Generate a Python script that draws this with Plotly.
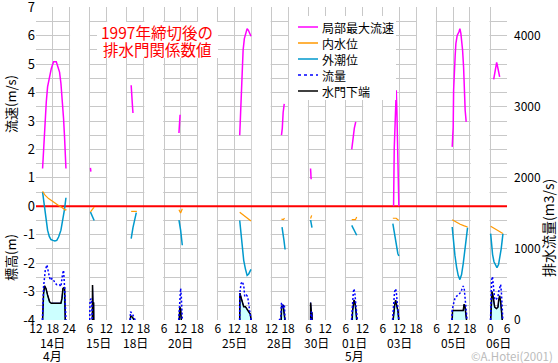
import plotly.graph_objects as go

# ---------------- broken time axis: the days that are shown ----------------
SEG_DAY = [14, 15, 18, 20, 25, 28, 30, 1, 3, 5, 6]
SEG_START = [12, 6, 12, 6, 6, 12, 6, 6, 6, 6, 0]     # first hour shown
SEG_END = [24, 12, 18, 18, 18, 18, 12, 12, 18, 18, 6]  # last hour shown
DAY_LABELS = ["14日", "15日", "18日", "20日", "25日", "28日", "30日", "01日", "03日", "05日", "06日"]
MONTH_LABELS = [("4月", 14), ("5月", 1)]
GAP = 7.4  # width of the blank strip between days (in axis hours)

# ---------------- data: (day, hour) and value ----------------
speed_t = [(14, 14.38), (14, 14.74), (14, 15.1), (14, 15.35), (14, 15.71), (14, 16.18), (14, 16.79),
           (14, 17.51), (14, 18.13), (14, 18.34), (14, 19.32), (14, 19.78), (14, 20.5), (14, 21.0),
           (14, 21.59), (14, 21.95), (14, 22.3), (14, 22.67), (14, 22.81),
           (15, 6.25), (15, 6.4),
           (18, 13.55), (18, 13.8), (18, 14.0), (18, 14.2),
           (20, 11.4), (20, 11.6), (20, 11.8),
           (25, 13.93), (25, 14.18), (25, 14.43), (25, 14.8), (25, 15.15), (25, 15.6), (25, 16.1),
           (25, 16.6), (25, 17.06), (25, 17.53), (25, 18.0),
           (28, 15.6), (28, 15.9), (28, 16.2), (28, 16.6),
           (30, 6.7), (30, 6.9),
           (1, 8.16), (1, 8.6), (1, 9.1), (1, 9.6),
           (3, 9.86), (3, 9.9), (3, 10.1), (3, 10.58), (3, 10.83), (3, 11.05), (3, 11.3), (3, 11.55), (3, 11.77),
           (5, 11.62), (5, 11.98), (5, 12.13), (5, 12.34), (5, 12.7), (5, 12.95), (5, 13.42), (5, 14.04),
           (5, 14.4), (5, 14.76), (5, 15.12), (5, 15.37), (5, 15.73), (5, 15.95), (5, 16.3), (5, 16.67),
           (6, 1.19), (6, 1.55), (6, 1.91), (6, 2.27), (6, 2.63), (6, 2.99), (6, 3.35)]
speed_v = [1.33, 2.09, 2.67, 3.14, 3.67, 4.2, 4.55,
           4.84, 5.02, 5.08, 5.08, 4.96, 4.72, 4.32,
           3.67, 3.08, 2.44, 1.85, 1.33,
           1.35, 1.22,
           4.26, 4.0, 3.55, 3.28,
           2.58, 2.9, 3.22,
           2.5, 3.03, 4.08, 4.84, 5.49, 5.9, 6.1,
           6.25, 6.19, 6.1, 5.98,
           2.5, 2.75, 3.3, 3.6,
           1.33, 0.95,
           2.0, 2.4, 2.75, 2.97,
           0.0, 0.67, 2.03, 3.38, 4.08, 3.38, 2.03, 0.67, 0.0,
           2.09, 2.79, 4.08, 4.9, 5.31, 5.72, 6.01, 6.13,
           6.25, 6.07, 5.78, 5.49, 4.9, 4.14, 3.38, 2.97,
           4.46, 4.7, 4.95, 5.06, 4.9, 4.7, 4.55]

inner_t = [(14, 14.38), (14, 15.35), (14, 16.54), (14, 17.77), (14, 18.95), (14, 20.15), (14, 21.37),
           (14, 21.95), (14, 22.56), (14, 23.0),
           (15, 6.25), (15, 7.6),
           (18, 13.55), (18, 15.6),
           (20, 11.4), (20, 12.0), (20, 12.6),
           (25, 13.93), (25, 14.9), (25, 15.9), (25, 17.1), (25, 18.0),
           (28, 15.6), (28, 16.3), (28, 16.7),
           (30, 6.7), (30, 6.9), (30, 7.1),
           (1, 8.16), (1, 9.5), (1, 9.95),
           (3, 9.6), (3, 10.8), (3, 11.4), (3, 11.77),
           (5, 11.62), (5, 13.0), (5, 14.5), (5, 16.0), (5, 17.17),
           (6, 0.1), (6, 1.5), (6, 3.0), (6, 4.5)]
inner_v = [0.53, 0.38, 0.27, 0.18, 0.1, 0.03, -0.04,
           -0.1, -0.13, -0.12,
           -0.2, -0.03,
           -0.18, -0.18,
           -0.12, -0.24, -0.09,
           -0.21, -0.28, -0.37, -0.43, -0.52,
           -0.45, -0.47, -0.42,
           -0.43, -0.33, -0.32,
           -0.47, -0.47, -0.38,
           -0.42, -0.42, -0.47, -0.49,
           -0.47, -0.55, -0.63, -0.69, -0.73,
           -0.7, -0.78, -0.87, -0.96]

tide_t = [(14, 14.38), (14, 14.99), (14, 15.6), (14, 16.18), (14, 16.79), (14, 17.4), (14, 18.1),
          (14, 18.8), (14, 19.5), (14, 20.15), (14, 21.0), (14, 21.73), (14, 22.3), (14, 22.81),
          (15, 6.25), (15, 7.6),
          (18, 13.55), (18, 14.2), (18, 15.4),
          (20, 11.4), (20, 12.0), (20, 12.6),
          (25, 13.93), (25, 14.54), (25, 15.0), (25, 15.37), (25, 15.98), (25, 16.6), (25, 17.17),
          (25, 17.78), (25, 18.0),
          (28, 15.8), (28, 16.2), (28, 16.5), (28, 16.9),
          (30, 6.72), (30, 6.95), (30, 7.2),
          (1, 8.16), (1, 8.75), (1, 9.35), (1, 9.95),
          (3, 9.6), (3, 9.96), (3, 10.3), (3, 10.65), (3, 11.0), (3, 11.4), (3, 11.77),
          (5, 11.62), (5, 11.98), (5, 12.6), (5, 13.2), (5, 13.78), (5, 14.4), (5, 15.0), (5, 15.6),
          (5, 16.2), (5, 16.8), (5, 17.17),
          (6, 0.1), (6, 0.36), (6, 0.8), (6, 1.3), (6, 1.9), (6, 2.38), (6, 2.95), (6, 3.5),
          (6, 3.9), (6, 4.2), (6, 4.54)]
tide_v = [0.5, 0.0, -0.49, -0.84, -1.06, -1.17, -1.2,
          -1.22, -1.2, -1.08, -0.84, -0.45, -0.1, 0.3,
          -0.2, -0.5,
          -1.14, -0.75, -0.22,
          -0.49, -0.84, -1.37,
          -0.5, -1.05, -1.55, -1.9, -2.2, -2.43, -2.38,
          -2.28, -2.22,
          -0.73, -0.96, -1.2, -1.52,
          -0.49, -0.6, -0.75,
          -0.67, -0.8, -0.92, -1.02,
          -0.61, -0.84, -1.06, -1.3, -1.52, -1.66, -1.75,
          -0.73, -1.2, -1.72, -2.14, -2.43, -2.58, -2.4, -2.02,
          -1.55, -1.08, -0.75,
          -0.96, -1.35, -1.7, -1.95, -2.1, -2.16, -2.05, -1.8,
          -1.5, -1.25, -0.96]

flow_t = [(14, 14.3), (14, 14.38), (14, 14.74), (14, 15.35), (14, 15.96), (14, 16.54), (14, 17.15),
          (14, 17.77), (14, 18.34), (14, 18.95), (14, 19.57), (14, 20.5), (14, 21.0), (14, 21.59),
          (14, 21.95), (14, 22.3), (14, 22.56), (14, 22.81),
          (15, 6.0), (15, 6.1), (15, 6.5), (15, 6.8), (15, 6.9),
          (18, 13.2), (18, 13.3), (18, 13.9), (18, 14.6), (18, 15.0),
          (20, 11.3), (20, 11.75), (20, 12.0), (20, 12.25), (20, 12.6),
          (25, 13.9), (25, 13.95), (25, 14.43), (25, 14.8), (25, 15.37), (25, 15.73), (25, 16.34),
          (25, 16.8), (25, 17.3), (25, 17.78), (25, 18.0),
          (28, 14.7), (28, 15.3), (28, 15.6), (28, 15.8), (28, 16.1), (28, 16.43), (28, 16.68), (28, 16.9),
          (30, 6.8), (30, 6.9), (30, 7.1), (30, 7.2),
          (1, 8.1), (1, 8.4), (1, 8.75), (1, 9.0), (1, 9.35), (1, 9.7), (1, 9.95), (1, 10.2),
          (3, 9.5), (3, 9.7), (3, 9.95), (3, 10.2), (3, 10.55), (3, 10.83), (3, 11.05), (3, 11.3),
          (3, 11.55), (3, 11.77),
          (5, 11.5), (5, 11.62), (5, 11.98), (5, 12.6), (5, 13.2), (5, 13.78), (5, 14.4), (5, 15.0),
          (5, 15.6), (5, 15.95), (5, 16.2), (5, 16.45), (5, 16.8), (5, 17.0),
          (6, 0.05), (6, 0.15), (6, 0.45), (6, 0.75), (6, 0.95), (6, 1.2), (6, 1.55), (6, 1.95),
          (6, 2.4), (6, 2.75), (6, 3.0), (6, 3.35), (6, 3.7), (6, 3.96), (6, 4.2), (6, 4.35), (6, 4.5)]
flow_v = [0, 100, 470, 700, 775, 660, 560,
          585, 560, 515, 495, 495, 470, 650,
          700, 470, 200, 0,
          0, 280, 300, 200, 0,
          0, 117, 93, 47, 0,
          0, 280, 445, 330, 0,
          0, 375, 515, 540, 490, 330, 350,
          330, 190, 95, 0,
          0, 20, 234, 243, 164, 211, 190, 0,
          0, 117, 100, 0,
          0, 250, 400, 440, 352, 190, 90, 0,
          0, 120, 280, 390, 440, 400, 300, 200,
          150, 0,
          0, 140, 210, 300, 335, 350, 375, 420,
          478, 446, 352, 211, 46, 0,
          0, 420, 560, 610, 540, 400, 300, 281,
          300, 330, 400, 470, 500, 400, 234, 94, 0]

gate_t = [(14, 14.38), (14, 14.5), (14, 14.74), (14, 15.1), (14, 15.6), (14, 16.18), (14, 16.9),
          (14, 17.51), (14, 21.0), (14, 21.37), (14, 21.73), (14, 22.3), (14, 22.56),
          (15, 6.95), (15, 7.0), (15, 7.15), (15, 7.4), (15, 7.45),
          (18, 13.2), (18, 13.4), (18, 14.0), (18, 14.6),
          (20, 11.5), (20, 11.7), (20, 12.0), (20, 12.25),
          (25, 13.93), (25, 14.0), (25, 14.54), (25, 15.0), (25, 15.37), (25, 15.98), (25, 16.6),
          (25, 17.17), (25, 17.78), (25, 18.0),
          (28, 15.5), (28, 15.65), (28, 16.2), (28, 16.5), (28, 16.85),
          (30, 6.7), (30, 6.72), (30, 6.9), (30, 6.95), (30, 7.2), (30, 7.25),
          (1, 8.3), (1, 8.5), (1, 9.0), (1, 9.35), (1, 9.7), (1, 9.95),
          (3, 9.7), (3, 9.96), (3, 10.3), (3, 10.6), (3, 10.9), (3, 11.2), (3, 11.5), (3, 11.7),
          (5, 11.62), (5, 11.75), (5, 15.6), (5, 15.9), (5, 16.2), (5, 16.45), (5, 16.8),
          (6, 0.1), (6, 0.36), (6, 0.6), (6, 0.95), (6, 1.2), (6, 1.55), (6, 2.2), (6, 2.74),
          (6, 3.0), (6, 3.35), (6, 3.7), (6, 4.0), (6, 4.3)]
gate_v = [-4, -3.53, -3.06, -2.8, -2.89, -3.12, -3.36,
          -3.41, -3.41, -3.24, -2.89, -2.85, -4,
          -4, -2.77, -3.4, -3.4, -4,
          -4, -3.85, -3.9, -4,
          -4, -3.55, -3.6, -4,
          -4, -3.06, -3.25, -3.41, -3.53, -3.53, -3.65,
          -3.71, -3.8, -4,
          -4, -3.53, -3.47, -3.65, -4,
          -4, -3.39, -3.4, -3.7, -3.75, -4,
          -4, -3.65, -3.3, -3.4, -3.7, -4,
          -4, -3.7, -3.45, -3.3, -3.45, -3.6, -3.72, -4,
          -4, -3.67, -3.67, -3.45, -3.5, -3.7, -4,
          -4, -3.35, -3.0, -3.15, -3.3, -3.55, -3.6, -3.55,
          -3.3, -3.15, -3.35, -3.7, -4]

Y_TICKS = list(range(-4, 8))
Y2_TICKS = [0, 1000, 2000, 3000, 4000]
Y_RANGE = [-4, 7.01]
Y2_RANGE = [0, 4404]

# ---------------- axis mapping ----------------
seg_offset = []
acc = 0.0
for s, e in zip(SEG_START, SEG_END):
    seg_offset.append(acc)
    acc += (e - s) + GAP
TOTAL = acc - GAP
seg_index = {d: i for i, d in enumerate(SEG_DAY)}


def to_axis(times, values):
    xs, ys = [], []
    prev = None
    for (d, h), v in zip(times, values):
        if prev is not None and d != prev:
            xs.append(None)
            ys.append(None)
        i = seg_index[d]
        xs.append(seg_offset[i] + h - SEG_START[i])
        ys.append(v)
        prev = d
    return xs, ys


tickvals, ticktext = [], []
for i, (s, e) in enumerate(zip(SEG_START, SEG_END)):
    for h in range(s, e + 1, 6):
        tickvals.append(seg_offset[i] + h - s)
        ticktext.append(str(h))

# plot area in pixels
PL, PR, PT, PB = 36, 507, 7, 320


def pxx(p):
    return (p - PL) / (PR - PL)


def pxy(p):
    return (PB - p) / (PB - PT)


FONT = "Noto Sans CJK JP, sans-serif"
C_SPEED, C_INNER, C_TIDE, C_FLOW, C_GATE = "#ff00ff", "#ff9900", "#0099cc", "#0000ff", "#000000"

fig = go.Figure()

# blank (white) strips between the shown days, hiding the grid there
gap_x, gap_y = [], []
for i in range(len(SEG_DAY) - 1):
    x0 = seg_offset[i] + SEG_END[i] - SEG_START[i] + 0.3
    x1 = seg_offset[i + 1] - 0.3
    gap_x += [x0, x1, x1, x0, x0, None]
    gap_y += [Y_RANGE[0] - 1, Y_RANGE[0] - 1, Y_RANGE[1] + 1, Y_RANGE[1] + 1, Y_RANGE[0] - 1, None]
fig.add_trace(go.Scatter(x=gap_x, y=gap_y, mode="lines", fill="toself", fillcolor="white",
                         line=dict(width=0, color="white"), hoverinfo="skip", showlegend=False))
# red zero line
fig.add_trace(go.Scatter(x=[0, TOTAL], y=[0, 0], mode="lines", line=dict(color="#ff0000", width=2),
                         hoverinfo="skip", showlegend=False))

gx, gy = to_axis(gate_t, gate_v)
fig.add_trace(go.Scatter(x=gx, y=gy, mode="lines", fill="toself", fillcolor="#ccffff",
                         line=dict(color="#0000ff", width=1), hoverinfo="skip", showlegend=False))
x, y = to_axis(tide_t, tide_v)
fig.add_trace(go.Scatter(x=x, y=y, mode="lines", name="外潮位", line=dict(color=C_TIDE, width=1.5)))
x, y = to_axis(inner_t, inner_v)
fig.add_trace(go.Scatter(x=x, y=y, mode="lines", name="内水位", line=dict(color=C_INNER, width=1.2)))
fig.add_trace(go.Scatter(x=gx, y=gy, mode="lines", name="水門下端", line=dict(color=C_GATE, width=1.5)))
x, y = to_axis(speed_t, speed_v)
fig.add_trace(go.Scatter(x=x, y=y, mode="lines", name="局部最大流速", line=dict(color=C_SPEED, width=1.5)))
x, y = to_axis(flow_t, flow_v)
fig.add_trace(go.Scatter(x=x, y=y, mode="lines", name="流量", yaxis="y2",
                         line=dict(color=C_FLOW, width=1.5, dash="2px,2px")))

shapes = []
# title and legend boxes
shapes.append(dict(type="rect", xref="paper", yref="paper", x0=pxx(97), x1=pxx(218), y0=pxy(58), y1=pxy(22),
                   fillcolor="white", line=dict(width=0), layer="above"))
shapes.append(dict(type="rect", xref="paper", yref="paper", x0=pxx(293), x1=pxx(396), y0=pxy(100), y1=pxy(16),
                   fillcolor="white", line=dict(width=0), layer="above"))

annotations = []
legend_items = [("局部最大流速", C_SPEED, "solid"), ("内水位", C_INNER, "solid"), ("外潮位", C_TIDE, "solid"),
                ("流量", C_FLOW, "dot"), ("水門下端", C_GATE, "solid")]
for k, (name, col, dash) in enumerate(legend_items):
    yy = 27 + 16 * k
    shapes.append(dict(type="line", xref="paper", yref="paper", x0=pxx(298), x1=pxx(318), y0=pxy(yy), y1=pxy(yy),
                       line=dict(color=col, width=1.5, dash=dash), layer="above"))
    annotations.append(dict(xref="paper", yref="paper", x=pxx(321), y=pxy(yy), text=name, showarrow=False,
                            xanchor="left", yanchor="middle", borderpad=0, font=dict(size=12, color="black")))

annotations.append(dict(xref="paper", yref="paper", x=pxx(157), y=pxy(32), text="1997年締切後の", showarrow=False,
                        xanchor="center", yanchor="middle", borderpad=0, font=dict(size=15.5, color="#ff0000")))
annotations.append(dict(xref="paper", yref="paper", x=pxx(157), y=pxy(49), text="排水門関係数値", showarrow=False,
                        xanchor="center", yanchor="middle", borderpad=0, font=dict(size=15.5, color="#ff0000")))

# axis titles
annotations.append(dict(xref="paper", yref="paper", x=pxx(10), y=pxy(104), text="流速(m/s)", textangle=-90,
                        showarrow=False, xanchor="center", yanchor="middle", font=dict(size=13)))
annotations.append(dict(xref="paper", yref="paper", x=pxx(10), y=pxy(258), text="標高(m)", textangle=-90,
                        showarrow=False, xanchor="center", yanchor="middle", font=dict(size=13)))
annotations.append(dict(xref="paper", yref="paper", x=pxx(548), y=pxy(228), text="排水流量(m3/s)", textangle=-90,
                        showarrow=False, xanchor="center", yanchor="middle", font=dict(size=14)))

# day and month labels
for i, lab in enumerate(DAY_LABELS):
    xc = seg_offset[i] + (SEG_END[i] - SEG_START[i]) / 2
    annotations.append(dict(xref="x", yref="paper", x=xc, y=pxy(342), text=lab, showarrow=False,
                            xanchor="center", yanchor="middle", borderpad=0, font=dict(size=12)))
for lab, d in MONTH_LABELS:
    i = seg_index[d]
    xc = seg_offset[i] + (SEG_END[i] - SEG_START[i]) / 2
    annotations.append(dict(xref="x", yref="paper", x=xc, y=pxy(355.5), text=lab, showarrow=False,
                            xanchor="center", yanchor="middle", borderpad=0, font=dict(size=12)))

annotations.append(dict(xref="paper", yref="paper", x=pxx(554), y=pxy(355.5), text="©A.Hotei(2001)", showarrow=False,
                        xanchor="right", yanchor="middle", borderpad=0, font=dict(size=11.5, color="#bbbbbb")))

GRID = "#c8c8c8"
fig.update_layout(
    width=558, height=363,
    margin=dict(l=PL, r=558 - PR, t=PT, b=363 - PB, autoexpand=False),
    paper_bgcolor="white", plot_bgcolor="white",
    font=dict(family=FONT, size=12, color="black"),
    showlegend=False,
    xaxis=dict(range=[0, TOTAL], tickmode="array", tickvals=tickvals, ticktext=ticktext,
               showgrid=True, gridcolor=GRID, gridwidth=1, zeroline=False, showline=False,
               ticks="", tickfont=dict(size=12), ticklabeloverflow="allow", automargin=False),
    yaxis=dict(range=Y_RANGE, tickmode="array", tickvals=Y_TICKS,
               ticktext=[str(v) for v in Y_TICKS],
               showgrid=True, gridcolor=GRID, gridwidth=1, zeroline=False, showline=False, ticks="",
               tickfont=dict(size=13), ticklabeloverflow="allow", automargin=False,
               minor=dict(tickmode="linear", tick0=0, dtick=0.5, showgrid=True, gridcolor=GRID, gridwidth=1)),
    yaxis2=dict(range=Y2_RANGE, overlaying="y", side="right", tickmode="array",
                tickvals=Y2_TICKS, showgrid=False, zeroline=False, showline=False, automargin=False,
                ticks="", ticklabelstandoff=6, tickfont=dict(size=12), ticklabeloverflow="allow"),
    shapes=shapes,
    annotations=annotations,
)

fig.write_html("out.html", config={"displayModeBar": False},
               post_script="document.body.style.margin='0';document.body.style.padding='0';")
